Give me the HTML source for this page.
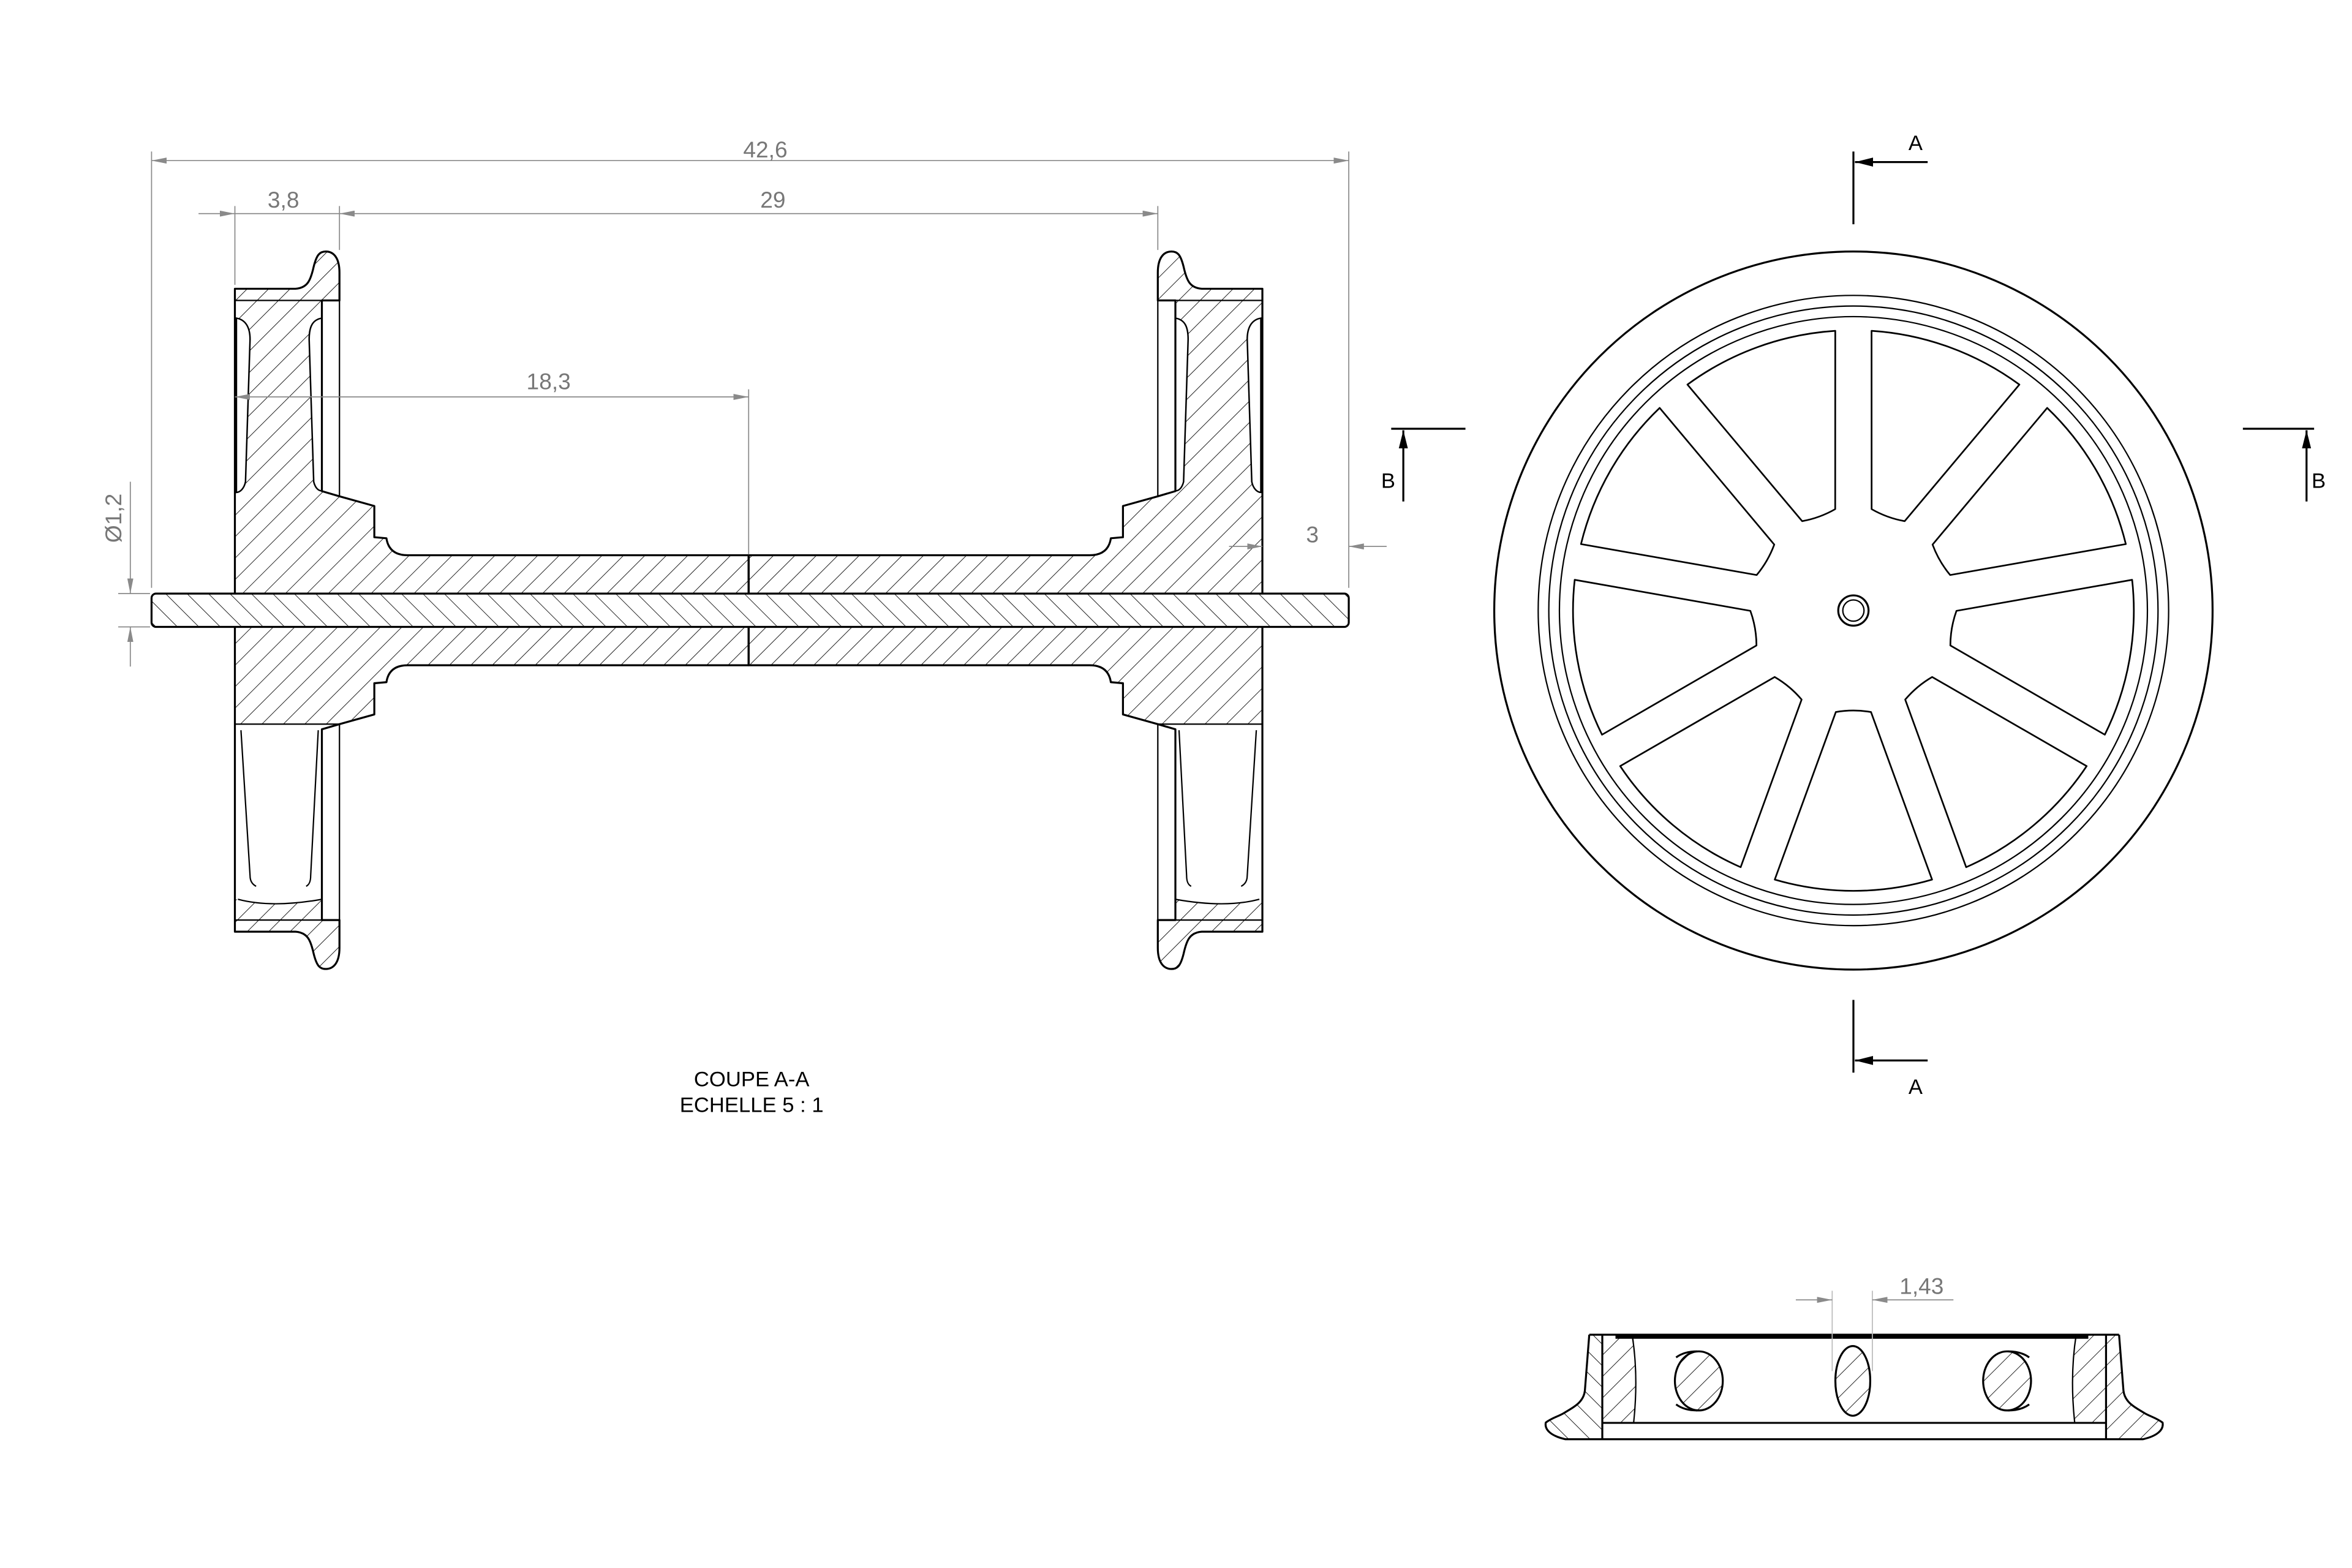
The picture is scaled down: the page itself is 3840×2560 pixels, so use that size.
<!DOCTYPE html>
<html><head><meta charset="utf-8">
<style>
html,body{margin:0;padding:0;background:#fff;}
svg{display:block;}
.o{fill:none;stroke:#000;stroke-width:1.3;stroke-linejoin:round;}
.t{fill:none;stroke:#000;stroke-width:0.9;}
.d{fill:none;stroke:#8a8a8a;stroke-width:0.7;}
.dt{font-family:"Liberation Sans",sans-serif;font-size:15px;fill:#777;}
.lb{font-family:"Liberation Sans",sans-serif;font-size:14px;fill:#000;}
</style></head>
<body>
<svg width="3840" height="2560" viewBox="0 0 1552 1035" preserveAspectRatio="none" xmlns="http://www.w3.org/2000/svg">
<defs>
  <pattern id="h1" width="10" height="10" patternUnits="userSpaceOnUse" patternTransform="rotate(45)">
    <line x1="0" y1="0" x2="0" y2="10" stroke="#000" stroke-width="0.7"/>
  </pattern>
  <pattern id="h2" width="10" height="10" patternUnits="userSpaceOnUse" patternTransform="rotate(-45)">
    <line x1="0" y1="0" x2="0" y2="10" stroke="#000" stroke-width="0.7"/>
  </pattern>
  <marker id="ah" viewBox="0 0 10 4" refX="10" refY="2" markerWidth="10" markerHeight="4" markerUnits="userSpaceOnUse" orient="auto-start-reverse">
    <path d="M0,0 L10,2 L0,4 Z" fill="#8a8a8a"/>
  </marker>
  <marker id="bh" viewBox="0 0 12 6" refX="12" refY="3" markerWidth="12" markerHeight="6" markerUnits="userSpaceOnUse" orient="auto-start-reverse">
    <path d="M0,0 L12,3 L0,6 Z" fill="#000"/>
  </marker>

  <path id="hubQ" d="M155,190.6 L195,190.6 C203,190 205,185 207,176 C209,168 211,166 215,166 C220,166 224,170 224,180 L224,198.3 L212.4,198.3 L212.4,324.2 L224,327.6 L247,334 L247,354.6 L255,355.3 C256,362 260,366.5 269,366.5 L494,366.5 L494,402.8 L155,402.8 Z"/>
  <path id="hubP" d="M155,327.6 L224,327.6 L247,334 L247,354.6 L255,355.3 C256,362 260,366.5 269,366.5 L494,366.5 L494,402.8 L155,402.8 Z"/>
  <path id="rimP" d="M155,190.6 L195,190.6 C203,190 205,185 207,176 C209,168 211,166 215,166 C220,166 224,170 224,180 L224,198.3 L212.4,198.3 L212.4,212 C190,208 172,208 157,212 L155,212 Z"/>
  <path id="slotL" d="M156,210 C162,211 165,216 165,224 L162,318 C161,323 158,325 156,325 Z"/>
  <path id="slotR" d="M212.4,210 C206,211 204,216 204,224 L207,318 C208,322 210,324 212.4,324 Z"/>

  <clipPath id="secClip">
    <use href="#hubQ"/>
    <use href="#hubQ" transform="translate(988,0) scale(-1,1)"/>
    <use href="#hubP" transform="translate(0,805.6) scale(1,-1)"/>
    <use href="#rimP" transform="translate(0,805.6) scale(1,-1)"/>
    <use href="#hubP" transform="translate(988,805.6) scale(-1,-1)"/>
    <use href="#rimP" transform="translate(988,805.6) scale(-1,-1)"/>
  </clipPath>

  <path id="open" d="M67,11.6 L177.6,51.9 A185,185 0 0 0 177.6,-51.9 L67,-11.6 A68,68 0 0 0 67,11.6 Z"/>

  <clipPath id="bvL">
    <path d="M1048.7,881 L1057.3,881 L1057.3,950 L1033,950 C1024,948 1019,944 1020,939 C1024,936 1028,935 1031.5,933 C1040,928 1045,925 1045.8,918 Z"/>
  </clipPath>
  <clipPath id="bvR">
    <path d="M1398.3,881 L1389.7,881 L1389.7,950 L1414,950 C1423,948 1428,944 1427,939 C1423,936 1419,935 1415.5,933 C1407,928 1402,925 1401.2,918 Z"/>
  </clipPath>
  <clipPath id="bvIL"><path d="M1057.3,881 L1077,881 C1080,900 1080,920 1078,939 L1057.3,939 Z"/></clipPath>
  <clipPath id="bvIR"><path d="M1389.7,881 L1370,881 C1367,900 1367,920 1369,939 L1389.7,939 Z"/></clipPath>
  <clipPath id="e1"><ellipse cx="1121" cy="911.5" rx="15.8" ry="19.5"/></clipPath>
  <clipPath id="e2"><ellipse cx="1222.6" cy="911.5" rx="11.5" ry="23"/></clipPath>
  <clipPath id="e3"><ellipse cx="1324.4" cy="911.5" rx="15.8" ry="19.5"/></clipPath>
</defs>

<rect width="1552" height="1035" fill="#fff"/>

<!-- ================= SECTION VIEW ================= -->
<rect x="100" y="150" width="800" height="500" fill="url(#h1)" clip-path="url(#secClip)"/>

<g fill="#fff" stroke="#000" stroke-width="1">
  <use href="#slotL"/><use href="#slotR"/>
  <use href="#slotL" transform="translate(988,0) scale(-1,1)"/>
  <use href="#slotR" transform="translate(988,0) scale(-1,1)"/>
</g>

<g class="o">
  <use href="#hubQ"/>
  <use href="#hubQ" transform="translate(988,0) scale(-1,1)"/>
  <use href="#hubQ" transform="translate(0,805.6) scale(1,-1)"/>
  <use href="#hubQ" transform="translate(988,805.6) scale(-1,-1)"/>
</g>
<g class="t">
  <line x1="155" y1="198.3" x2="212.4" y2="198.3"/>
  <line x1="775.6" y1="198.3" x2="833" y2="198.3"/>
  <line x1="155" y1="607.3" x2="212.4" y2="607.3"/>
  <line x1="775.6" y1="607.3" x2="833" y2="607.3"/>
  <line x1="224" y1="180" x2="224" y2="327.6"/>
  <line x1="764" y1="180" x2="764" y2="327.6"/>
  <line x1="224" y1="478" x2="224" y2="625"/>
  <line x1="764" y1="478" x2="764" y2="625"/>
  <line x1="155" y1="478" x2="224" y2="478"/>
  <line x1="764" y1="478" x2="833" y2="478"/>
  <path d="M157,593.6 C172,597.6 190,597.6 212.4,593.6"/>
  <path d="M831,593.6 C816,597.6 798,597.6 775.6,593.6"/>
  <path d="M159,482 L165,578 C165,582 167,584 169,585"/>
  <path d="M210,482 L205,578 C205,582 204,584 202,585"/>
  <path d="M829,482 L823,578 C823,582 821,584 819,585"/>
  <path d="M778,482 L783,578 C783,582 784,584 786,585"/>
</g>
<line x1="494" y1="366.5" x2="494" y2="439.1" stroke="#000" stroke-width="1.2"/>

<rect x="100" y="391.8" width="790" height="22" rx="3" fill="#fff"/>
<rect x="100" y="391.8" width="790" height="22" rx="3" class="o" style="fill:url(#h2)"/>

<g class="d">
  <line x1="100" y1="100" x2="100" y2="388"/>
  <line x1="890" y1="100" x2="890" y2="388"/>
  <line x1="100" y1="106" x2="890" y2="106" marker-start="url(#ah)" marker-end="url(#ah)"/>
  <line x1="155" y1="136" x2="155" y2="188"/>
  <line x1="224" y1="136" x2="224" y2="165"/>
  <line x1="764" y1="136" x2="764" y2="165"/>
  <line x1="131" y1="141" x2="155" y2="141" marker-end="url(#ah)"/>
  <line x1="155" y1="141" x2="224" y2="141"/>
  <line x1="224" y1="141" x2="764" y2="141" marker-start="url(#ah)" marker-end="url(#ah)"/>
  <line x1="155" y1="262" x2="494" y2="262" marker-start="url(#ah)" marker-end="url(#ah)"/>
  <line x1="494" y1="257" x2="494" y2="366"/>
  <line x1="811" y1="360.7" x2="833" y2="360.7" marker-end="url(#ah)"/>
  <line x1="915" y1="360.7" x2="890" y2="360.7" marker-end="url(#ah)"/>
  <line x1="78" y1="391.8" x2="99" y2="391.8"/>
  <line x1="78" y1="413.8" x2="99" y2="413.8"/>
  <line x1="86" y1="318" x2="86" y2="391.8" marker-end="url(#ah)"/>
  <line x1="86" y1="440" x2="86" y2="413.8" marker-end="url(#ah)"/>
</g>
<text class="dt" x="505" y="104" text-anchor="middle">42,6</text>
<text class="dt" x="187" y="137" text-anchor="middle">3,8</text>
<text class="dt" x="510" y="137" text-anchor="middle">29</text>
<text class="dt" x="362" y="257" text-anchor="middle">18,3</text>
<text class="dt" x="866" y="358" text-anchor="middle">3</text>
<text class="dt" x="80" y="342" text-anchor="middle" transform="rotate(-90 80 342)">Ø1,2</text>

<text class="lb" x="496" y="717" text-anchor="middle">COUPE A-A</text>
<text class="lb" x="496" y="734" text-anchor="middle">ECHELLE 5 : 1</text>

<!-- ================= FRONT VIEW ================= -->
<g>
  <circle cx="1223" cy="403" r="237" class="o"/>
  <circle cx="1223" cy="403" r="208" class="t"/>
  <circle cx="1223" cy="403" r="201" class="t"/>
  <circle cx="1223" cy="403" r="194" class="t"/>
  <circle cx="1223" cy="403" r="10" class="o"/>
  <circle cx="1223" cy="403" r="7" class="t"/>
  <g transform="translate(1223,403)" class="o" style="stroke-width:1.1">
    <use href="#open" transform="rotate(-70)"/>
    <use href="#open" transform="rotate(-30)"/>
    <use href="#open" transform="rotate(10)"/>
    <use href="#open" transform="rotate(50)"/>
    <use href="#open" transform="rotate(90)"/>
    <use href="#open" transform="rotate(130)"/>
    <use href="#open" transform="rotate(170)"/>
    <use href="#open" transform="rotate(210)"/>
    <use href="#open" transform="rotate(250)"/>
  </g>
</g>
<g stroke="#000" stroke-width="1.3" fill="none">
  <line x1="1223" y1="100" x2="1223" y2="148"/>
  <line x1="1272" y1="107" x2="1224" y2="107" marker-end="url(#bh)"/>
  <line x1="1223" y1="660" x2="1223" y2="708"/>
  <line x1="1272" y1="700" x2="1224" y2="700" marker-end="url(#bh)"/>
  <line x1="918" y1="283" x2="967" y2="283"/>
  <line x1="926" y1="331" x2="926" y2="284" marker-end="url(#bh)"/>
  <line x1="1480" y1="283" x2="1527" y2="283"/>
  <line x1="1522" y1="331" x2="1522" y2="284" marker-end="url(#bh)"/>
</g>
<text class="lb" x="1264" y="99" text-anchor="middle">A</text>
<text class="lb" x="1264" y="722" text-anchor="middle">A</text>
<text class="lb" x="916" y="322" text-anchor="middle">B</text>
<text class="lb" x="1530" y="322" text-anchor="middle">B</text>

<!-- ================= BOTTOM VIEW ================= -->
<rect x="1015" y="875" width="45" height="80" fill="url(#h2)" clip-path="url(#bvL)"/>
<rect x="1387" y="875" width="45" height="80" fill="url(#h1)" clip-path="url(#bvR)"/>
<rect x="1055" y="875" width="30" height="70" fill="url(#h1)" clip-path="url(#bvIL)"/>
<rect x="1362" y="875" width="30" height="70" fill="url(#h1)" clip-path="url(#bvIR)"/>
<rect x="1100" y="885" width="250" height="55" fill="url(#h1)" clip-path="url(#e1)"/>
<rect x="1200" y="885" width="50" height="55" fill="url(#h1)" clip-path="url(#e2)"/>
<rect x="1300" y="885" width="50" height="55" fill="url(#h1)" clip-path="url(#e3)"/>
<g class="o">
  <path d="M1048.7,881 L1398.3,881"/>
  <path d="M1048.7,881 L1045.8,918 C1045,925 1040,928 1031.5,933 C1028,935 1024,936 1020,939 C1019,944 1024,948 1033,950 L1414,950 C1423,948 1428,944 1427,939 C1423,936 1419,935 1415.5,933 C1407,928 1402,925 1401.2,918 L1398.3,881"/>
  <line x1="1057.3" y1="881" x2="1057.3" y2="950"/>
  <line x1="1389.7" y1="881" x2="1389.7" y2="950"/>
  <line x1="1057.3" y1="939.2" x2="1389.7" y2="939.2"/>
  <ellipse cx="1121" cy="911.5" rx="15.8" ry="19.5"/>
  <ellipse cx="1222.6" cy="911.5" rx="11.5" ry="23"/>
  <ellipse cx="1324.4" cy="911.5" rx="15.8" ry="19.5"/>
  <path d="M1106,896 C1110,893 1115,892 1120,892"/>
  <path d="M1106,927 C1110,930 1115,931 1120,931"/>
  <path d="M1339,896 C1335,893 1330,892 1325,892"/>
  <path d="M1339,927 C1335,930 1330,931 1325,931"/>
</g>
<line x1="1066" y1="882.6" x2="1378" y2="882.6" stroke="#000" stroke-width="2.2"/>
<g class="t">
  <path d="M1077,881 C1080,900 1080,920 1078,939"/>
  <path d="M1370,881 C1367,900 1367,920 1369,939"/>
</g>
<g class="d">
  <line x1="1209" y1="852" x2="1209" y2="905" stroke="#bbb"/>
  <line x1="1235.5" y1="852" x2="1235.5" y2="905" stroke="#bbb"/>
  <line x1="1185" y1="858" x2="1209" y2="858" marker-end="url(#ah)"/>
  <line x1="1289" y1="858" x2="1235.5" y2="858" marker-end="url(#ah)"/>
</g>
<text class="dt" x="1268" y="854" text-anchor="middle">1,43</text>
</svg>
</body></html>
